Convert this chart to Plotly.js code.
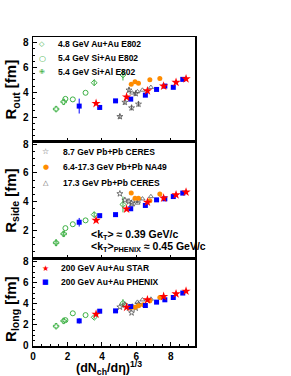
<!DOCTYPE html>
<html><head><meta charset="utf-8">
<script src="https://cdn.plot.ly/plotly-3.0.1.min.js"></script>
<style>html,body{margin:0;padding:0;background:#fff}#chart{width:291px;height:376px}</style>
</head><body><div id="chart"></div>
<script>
// ---- data: x = (dN_ch/deta)^(1/3) ----
const alAuX = [3.55, 5.22];            // 4.8 GeV Au+Au E802
const alAuOut = [4.77, 5.40], alAuOutE = [0.25, 0.45];
const alAuSide = [3.09, 3.80], alAuSideE = [0.2, 0.55];
const alAuLong = [2.72, 4.05], alAuLongE = [0.15, 0.4];

const siAuX = [1.88, 2.31, 3.05];      // 5.4 GeV Si+Au E802
const siAuOut = [3.47, 3.43, 3.96];
const siAuSide = [2.15, 2.42, 2.69];
const siAuLong = [2.45, 3.10, 2.93];

const siAlX = [1.34, 1.78];            // 5.4 GeV Si+Al E802
const siAlOut = [2.65, 3.23];
const siAlSide = [1.13, 1.75], siAlSideE = [0.25, 0.2];
const siAlLong = [1.88, 2.38];

const ceres87X = [5.04, 5.33, 5.57, 5.72, 5.96, 6.12];   // 8.7 GeV Pb+Pb CERES
const ceres87Out = [2.05, 3.20, 4.18, 2.75, 3.90, 3.05];
const ceres87Side = [4.55, 4.10, 4.00, 3.90, 4.08, 4.10];
const ceres87Long = [3.70, 3.90, 3.60, 3.15, 3.60, 3.95];
const ceres87E = [0.2, 0.2, 0.2, 0.2, 0.2, 0.2];

const na49X = [5.70, 5.92, 6.12, 6.40, 6.78, 7.36];      // 6.4-17.3 GeV Pb+Pb NA49
const na49Out = [4.64, 4.85, 4.72, null, 5.00, 5.12];
const na49Side = [4.59, 4.24, 4.24, null, 4.06, 4.52];
const na49Long = [3.68, 3.68, 3.81, 3.90, 4.29, 4.60];

const ceres173X = [5.76, 6.06, 6.35, 6.84];              // 17.3 GeV Pb+Pb CERES
const ceres173Out = [3.95, 4.05, 4.18, 4.40];
const ceres173Side = [3.78, 3.90, 4.19, 4.35];
const ceres173Long = [3.80, 4.16, 4.38, 4.45];

const starX = [3.66, 5.43, 6.64, 7.58, 8.30, 8.88];      // 200 GeV Au+Au STAR
const starOut = [3.10, 3.62, 4.12, 4.50, 4.80, 5.08];
const starSide = [2.69, 3.48, 3.96, 4.24, 4.47, 4.66];
const starLong = [3.02, 3.68, 4.38, 4.70, 4.95, 5.20];

const phenixX = [2.68, 3.87, 4.79, 5.67, 6.52, 7.17, 7.65, 8.14, 8.69]; // 200 GeV Au+Au PHENIX
const phenixOut = [2.89, 2.78, 3.31, 3.45, 3.77, 4.23, 4.50, 4.40, 5.04];
const phenixOutE = [0.6, 0.1, 0.1, 0.15, 0.1, 0.1, 0.1, 0.1, 0.1];
const phenixSide = [2.56, 3.02, 3.09, 3.50, 3.73, 4.12, 4.19, 4.35, 4.59];
const phenixSideE = [0.3, 0.1, 0.1, 0.1, 0.1, 0.1, 0.1, 0.1, 0.1];
const phenixLong = [2.38, 3.30, 3.33, 3.74, 3.84, 4.16, 4.38, 4.60, 5.02];
const phenixLongE = [0.25, 0.2, 0.1, 0.1, 0.1, 0.1, 0.1, 0.1, 0.1];

const yTicks = [2, 4, 6, 8];
const yTicksBottom = [0, 2, 4, 6, 8];
const xTicks = [0, 2, 4, 6, 8];

// ---- styles ----
const GREEN = '#3cb043', GRAY = '#555555', ORANGE = '#ff8c00', RED = '#ff0000', BLUE = '#0000ff';
const FONT = 'Liberation Sans, Arial, sans-serif';

function tr(x, y, err, p, sym, size, color, lw) {
  const t = {
    type: 'scatter', mode: 'markers', x: x, y: y,
    xaxis: p === 1 ? 'x' : 'x' + p, yaxis: p === 1 ? 'y' : 'y' + p,
    marker: {symbol: sym, size: size, color: color, line: {color: color, width: lw}},
    showlegend: false, hoverinfo: 'skip', cliponaxis: true
  };
  if (err) t.error_y = {type: 'data', array: err, visible: true, thickness: 1, width: 0, color: color};
  return t;
}

const sets = [
  [alAuX, [alAuOut, alAuSide, alAuLong], [alAuOutE, alAuSideE, alAuLongE], 'diamond-open', 4.5, GREEN, 1],
  [siAuX, [siAuOut, siAuSide, siAuLong], [null, null, null], 'circle-open', 5, GREEN, 1],
  [siAlX, [siAlOut, siAlSide, siAlLong], [null, siAlSideE, null], 'cross-open', 4.5, GREEN, 1],
  [ceres87X, [ceres87Out, ceres87Side, ceres87Long], [ceres87E, null, null], 'star-open', 4.5, GRAY, 0.8],
  [ceres173X, [ceres173Out, ceres173Side, ceres173Long], [null, null, null], 'triangle-up-open', 4.5, GRAY, 0.8],
  [na49X, [na49Out, na49Side, na49Long], [null, null, null], 'circle', 5, ORANGE, 0],
  [phenixX, [phenixOut, phenixSide, phenixLong], [phenixOutE, phenixSideE, phenixLongE], 'square', 5, BLUE, 0],
  [starX, [starOut, starSide, starLong], [null, null, null], 'star', 7, RED, 0]
];
const data = [];
for (const s of sets) for (let p = 1; p <= 3; p++) data.push(tr(s[0], s[1][p - 1], s[2][p - 1], p, s[3], s[4], s[5], s[6]));

const tickFont = {family: FONT, size: 10, color: '#000', weight: 'bold'};
function xax(showLabels) {
  return {range: [0, 9.4], tickmode: 'array', tickvals: xTicks, ticks: 'inside', ticklen: 4, tickwidth: 1,
    tickcolor: '#000', showticklabels: showLabels, tickfont: tickFont, showline: true, linecolor: '#000',
    linewidth: 1.5, mirror: true, showgrid: false, zeroline: false,
    minor: {ticks: 'inside', ticklen: 2, dtick: 0.5, tick0: 0, tickcolor: '#000', showgrid: false}};
}
function yax(range, dom, vals, anchor) {
  return {range: range, domain: dom, anchor: anchor, tickmode: 'array', tickvals: vals, ticks: 'inside', ticklen: 4,
    tickwidth: 1, tickcolor: '#000', tickfont: tickFont, showline: true, linecolor: '#000', linewidth: 1.5,
    mirror: true, showgrid: false, zeroline: false, ticklabelstandoff: 1,
    minor: {ticks: 'inside', ticklen: 2, dtick: 0.5, tick0: 0, tickcolor: '#000', showgrid: false}};
}

const legFont = {family: FONT, size: 8.5, color: '#000', weight: 'bold'};
function legText(txt, x, y) {
  return {xref: 'paper', yref: 'paper', x: x, y: y, xanchor: 'left', yanchor: 'middle', text: txt,
    showarrow: false, font: legFont};
}
function legSym(sym, color, size, x, y) {
  return {xref: 'paper', yref: 'paper', x: x, y: y, xanchor: 'center', yanchor: 'middle', text: sym,
    showarrow: false, font: {family: 'DejaVu Sans', size: size, color: color}};
}
const titleFont = {family: FONT, size: 15, color: '#000', weight: 'bold'};
function ytitle(txt, y) {
  return {xref: 'paper', yref: 'paper', x: 0, xshift: -21, y: y, xanchor: 'center', yanchor: 'middle',
    text: txt, textangle: -90, showarrow: false, font: titleFont};
}

const annotations = [
  legSym('◇', GREEN, 7, 0.056, 0.977), legText('4.8 GeV Au+Au E802', 0.140, 0.977),
  legSym('○', GREEN, 8, 0.056, 0.932), legText('5.4 GeV Si+Au E802', 0.140, 0.932),
  legSym('✙', GREEN, 7, 0.056, 0.887), legText('5.4 GeV Si+Al E802', 0.140, 0.887),
  legSym('☆', GRAY, 8, 0.078, 0.629), legText('8.7 GeV Pb+Pb CERES', 0.173, 0.629),
  legSym('●', ORANGE, 7, 0.078, 0.578), legText('6.4-17.3 GeV Pb+Pb NA49', 0.173, 0.578),
  legSym('△', GRAY, 7, 0.078, 0.528), legText('17.3 GeV Pb+Pb CERES', 0.173, 0.528),
  legSym('★', RED, 8, 0.080, 0.251), legText('200 GeV Au+Au STAR', 0.160, 0.251),
  legSym('■', BLUE, 7, 0.080, 0.208), legText('200 GeV Au+Au PHENIX', 0.160, 0.208),
  {xref: 'paper', yref: 'paper', x: 0.345, y: 0.359, xanchor: 'left', yanchor: 'middle', showarrow: false,
    text: '&lt;k<sub>T</sub>&gt; ≈ 0.39 GeV/c', font: {family: FONT, size: 10.5, color: '#000', weight: 'bold'}},
  {xref: 'paper', yref: 'paper', x: 0.345, y: 0.322, xanchor: 'left', yanchor: 'middle', showarrow: false,
    text: '&lt;k<sub>T</sub>&gt;<sub>PHENIX</sub> ≈ 0.45 GeV/c', font: {family: FONT, size: 10.5, color: '#000', weight: 'bold'}},
  ytitle('R<sub>out</sub> [fm]', 0.83),
  ytitle('R<sub>side</sub> [fm]', 0.47),
  ytitle('R<sub>long</sub> [fm]', 0.12),
  {xref: 'paper', yref: 'paper', x: 0.47, y: -0.071, xanchor: 'center', yanchor: 'middle', showarrow: false,
    text: '(dN<sub>ch</sub>/dη)<sup>1/3</sup>', font: {family: FONT, size: 12.5, color: '#000', weight: 'bold'}}
];

const layout = {
  width: 291, height: 376, paper_bgcolor: '#fff', plot_bgcolor: '#fff',
  margin: {l: 33, r: 96, t: 37, b: 30, pad: 0},
  showlegend: false,
  xaxis: Object.assign(xax(false), {anchor: 'y'}),
  xaxis2: Object.assign(xax(false), {anchor: 'y2', matches: 'x'}),
  xaxis3: Object.assign(xax(true), {anchor: 'y3', matches: 'x'}),
  yaxis: yax([0, 8.45], [0.6602, 1], yTicks, 'x'),
  yaxis2: yax([0, 8.15], [0.2816, 0.6602], yTicks, 'x2'),
  yaxis3: yax([0, 8.25], [0, 0.2816], yTicksBottom, 'x3'),
  annotations: annotations
};
Plotly.newPlot('chart', data, layout, {displayModeBar: false, staticPlot: true});
</script></body></html>
